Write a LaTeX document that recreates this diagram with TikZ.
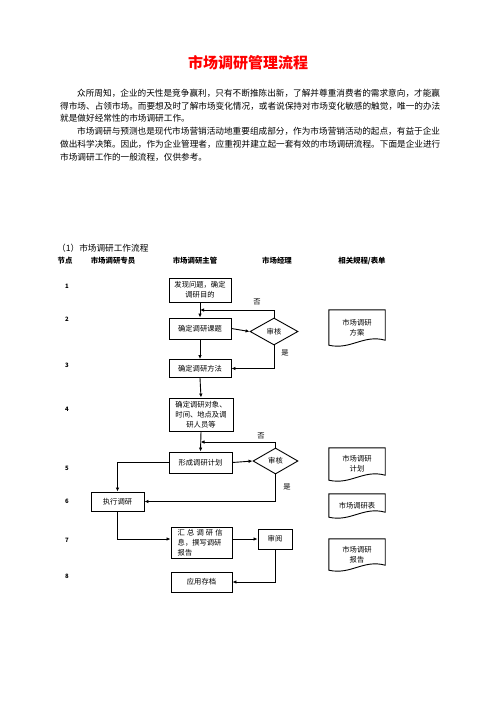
\documentclass[tikz,border=0pt]{standalone}
\usepackage{fontspec}
\setmainfont{Noto Sans CJK SC}
\usetikzlibrary{shapes.geometric,arrows.meta,calc}
\begin{document}
\begin{tikzpicture}[x=1pt,y=-1pt,
  body/.style={anchor=west,inner sep=0pt,font=\fontsize{8.64}{10}\selectfont},
  head/.style={inner sep=0pt,font=\fontsize{7.4}{9}\selectfont\bfseries},
  num/.style={inner sep=0pt,font=\fontsize{6}{7}\selectfont\bfseries},
  box/.style={draw,line width=0.9pt,inner sep=0pt,align=center,font=\fontsize{7.3}{10}\selectfont},
  dia/.style={diamond,draw,line width=0.9pt,inner sep=0pt,font=\fontsize{7.3}{9}\selectfont},
  docn/.style={inner sep=0pt,align=center,font=\fontsize{7.3}{10}\selectfont},
  docline/.style={line width=0.9pt},
  lab/.style={inner sep=0pt,font=\fontsize{7.3}{9}\selectfont},
  arr/.style={line width=0.9pt,-{Latex[length=4pt,width=3.5pt]}},
  ln/.style={line width=0.9pt}]
\useasboundingbox (0,0) rectangle (496,702);
% title
\node[inner sep=0pt,text=red,font=\fontsize{15}{17}\selectfont\bfseries] (title) at (248,63) {市场调研管理流程};
% paragraphs
\node[body] (p1) at (77,93) {众所周知，企业的天性是竞争赢利，只有不断推陈出新，了解并尊重消费者的需求意向，才能赢};
\node[body] (p2) at (60,106) {得市场、占领市场。而要想及时了解市场变化情况，或者说保持对市场变化敏感的触觉，唯一的办法};
\node[body] (p3) at (60,118.5) {就是做好经常性的市场调研工作。};
\node[body] (p4) at (77,131.5) {市场调研与预测也是现代市场营销活动地重要组成部分，作为市场营销活动的起点，有益于企业};
\node[body] (p5) at (60,144) {做出科学决策。因此，作为企业管理者，应重视并建立起一套有效的市场调研流程。下面是企业进行};
\node[body] (p6) at (60,157) {市场调研工作的一般流程，仅供参考。};
% section heading
\node[body] (sec) at (57,248) {（1）市场调研工作流程};
% header row
\node[head] (h1) at (65,261) {节点};
\node[head] (h2) at (113,261) {市场调研专员};
\node[head] (h3) at (195,261) {市场调研主管};
\node[head] (h4) at (277,261) {市场经理};
\node[head] (h5) at (362,261) {相关规程/表单};
% node numbers
\node[num] (n1) at (67,286) {1};
\node[num] (n2) at (67,319) {2};
\node[num] (n3) at (67,365) {3};
\node[num] (n4) at (67,409) {4};
\node[num] (n5) at (67,468) {5};
\node[num] (n6) at (67,501) {6};
\node[num] (n7) at (67,540) {7};
\node[num] (n8) at (67,576) {8};
% boxes
\node[box,minimum width=62pt,minimum height=24pt] (b1) at (200,290) {发现问题，确定\\调研目的};
\node[box,minimum width=62pt,minimum height=21pt] (b2) at (200,328.5) {确定调研课题};
\node[box,minimum width=62pt,minimum height=18pt] (b3) at (200,368.5) {确定调研方法};
\node[box,minimum width=64pt,minimum height=33pt] (b4) at (201,414.5) {确定调研对象、\\时间、地点及调\\研人员等};
\node[box,minimum width=63pt,minimum height=21pt] (b5) at (200.5,462.5) {形成调研计划};
\node[box,minimum width=53pt,minimum height=19pt] (b6) at (117.5,501.5) {执行调研};
\node[box,minimum width=61pt,minimum height=31pt,align=left] (b7) at (201.5,542.5) {\makebox[45pt][s]{汇\hfill 总\hfill 调\hfill 研\hfill 信}\\息，撰写调研\\报告\hspace*{33pt}};
\node[box,minimum width=34pt,minimum height=20pt] (sy) at (275,539) {审阅};
\node[box,minimum width=61pt,minimum height=20pt] (b8) at (201.5,582) {应用存档};
% diamonds
\node[dia,minimum width=48pt,minimum height=27pt] (d1) at (274,331.5) {审核};
\node[dia,minimum width=45pt,minimum height=26pt] (d2) at (275.5,461) {审核};
% documents
\node[docn,minimum width=56pt,minimum height=35pt] (dc1) at (357,327.5) {市场调研\\方案};
\node[docn,minimum width=56pt,minimum height=32pt] (dc2) at (357,464) {市场调研\\计划};
\node[docn,minimum width=56pt,minimum height=23pt] (dc3) at (357,505.5) {市场调研表};
\node[docn,minimum width=56pt,minimum height=31pt] (dc4) at (357,554.5) {市场调研\\报告};
\foreach \d in {dc1,dc2,dc3,dc4}{
  \draw[docline] (\d.south west) -- (\d.north west) -- (\d.north east) -- ([yshift=5pt]\d.south east)
    .. controls ([xshift=-22pt,yshift=11pt]\d.south east) and ([xshift=22pt,yshift=-5pt]\d.south west) .. (\d.south west) -- cycle;
}
% labels
\node[lab] (no1) at (257,302) {否};
\node[lab] (yes1) at (285,353) {是};
\node[lab] (no2) at (261,436) {否};
\node[lab] (yes2) at (287,487) {是};
% junctions
\coordinate (j1) at (200,310);
\coordinate (j2) at (200.5,442);
% connectors
\draw[arr] (b1.south) -- (b2.north);
\draw[arr] (d1.north) |- (j1);
\draw[arr] (b2.east) -- (d1.west);
\draw[arr] (b2.south) -- (b3.north);
\draw[arr] (d1.south) |- (b3.east);
\draw[arr] (b3.south) -- (b4.north);
\draw[arr] (b4.south) -- (b5.north);
\draw[arr] (d2.north) |- (j2);
\draw[arr] (b5.east) -- (d2.west);
\draw[arr] (b5.west) -| (b6.north);
\draw[arr] (d2.south) |- (b6.east);
\draw[arr] (b6.south) |- (b7.west |- sy.west);
\draw[arr] (b7.east |- sy.west) -- (sy.west);
\draw[arr] (sy.south) |- (b8.east);
\end{tikzpicture}
\end{document}
